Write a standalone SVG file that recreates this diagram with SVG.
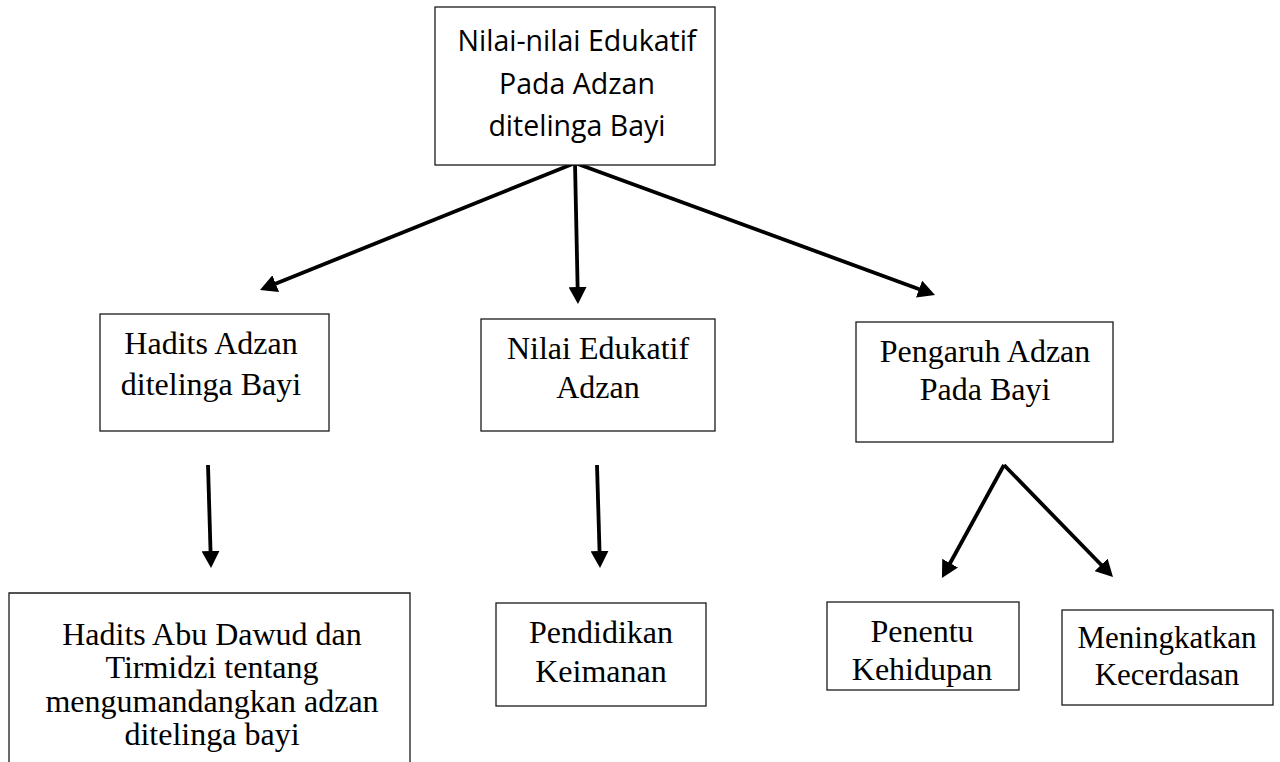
<svg xmlns="http://www.w3.org/2000/svg" width="1280" height="762" viewBox="0 0 1280 762">
<style>
.box{fill:#fff;stroke:#1a1a1a;stroke-width:1.3}
.sans{font-family:"Open Sans","Liberation Sans",sans-serif;font-size:28.5px;fill:#000;text-anchor:middle}
.serif{font-family:"Liberation Serif","Times New Roman",serif;font-size:32px;fill:#000;text-anchor:middle}
.arr{stroke:#000;stroke-width:3.8;fill:none;marker-end:url(#ah)}
</style>
<defs>
<marker id="ah" markerUnits="userSpaceOnUse" markerWidth="18" markerHeight="18" refX="9" refY="9" orient="auto">
<path d="M0,0 L17,9 L0,18 z" fill="#000"/>
</marker>
</defs>
<rect x="0" y="0" width="1280" height="762" fill="#fff"/>
<g id="connectors">
<line class="arr" x1="575" y1="163" x2="267.4" y2="287"/>
<line class="arr" x1="575" y1="163" x2="577.8" y2="296"/>
<line class="arr" x1="575" y1="163" x2="927.5" y2="292.2"/>
<line class="arr" x1="208" y1="465" x2="210.8" y2="560"/>
<line class="arr" x1="597" y1="465" x2="599.8" y2="560"/>
<line class="arr" x1="1004" y1="465" x2="945.8" y2="571"/>
<line class="arr" x1="1004" y1="465" x2="1107.4" y2="571.3"/>
</g>
<g id="top">
<rect class="box" x="435" y="7" width="280" height="158"/>
<text class="sans" x="577" y="51">Nilai-nilai Edukatif</text>
<text class="sans" x="577" y="94">Pada Adzan</text>
<text class="sans" x="577" y="136">ditelinga Bayi</text>
</g>
<g id="hadits">
<rect class="box" x="100" y="314" width="229" height="117"/>
<text class="serif" x="211" y="354">Hadits Adzan</text>
<text class="serif" x="211" y="395">ditelinga Bayi</text>
</g>
<g id="nilai">
<rect class="box" x="481" y="319" width="234" height="112"/>
<text class="serif" x="598" y="359">Nilai Edukatif</text>
<text class="serif" x="598" y="398">Adzan</text>
</g>
<g id="pengaruh">
<rect class="box" x="856" y="322" width="257" height="120"/>
<text class="serif" x="985" y="362">Pengaruh Adzan</text>
<text class="serif" x="985" y="400">Pada Bayi</text>
</g>
<g id="abudawud">
<path class="box" d="M9,770 V593 H410 V770"/>
<text class="serif" x="212" y="645">Hadits Abu Dawud dan</text>
<text class="serif" x="212" y="678">Tirmidzi tentang</text>
<text class="serif" x="212" y="712">mengumandangkan adzan</text>
<text class="serif" x="212" y="745">ditelinga bayi</text>
</g>
<g id="keimanan">
<rect class="box" x="496" y="603" width="210" height="103"/>
<text class="serif" x="601" y="643">Pendidikan</text>
<text class="serif" x="601" y="682">Keimanan</text>
</g>
<g id="kehidupan">
<rect class="box" x="827" y="602" width="192" height="88"/>
<text class="serif" x="922" y="642">Penentu</text>
<text class="serif" x="922" y="680">Kehidupan</text>
</g>
<g id="kecerdasan">
<rect class="box" x="1062" y="610" width="211" height="95"/>
<text class="serif" x="1167" y="648" style="font-size:31px">Meningkatkan</text>
<text class="serif" x="1167" y="685" style="font-size:31px">Kecerdasan</text>
</g>
</svg>
